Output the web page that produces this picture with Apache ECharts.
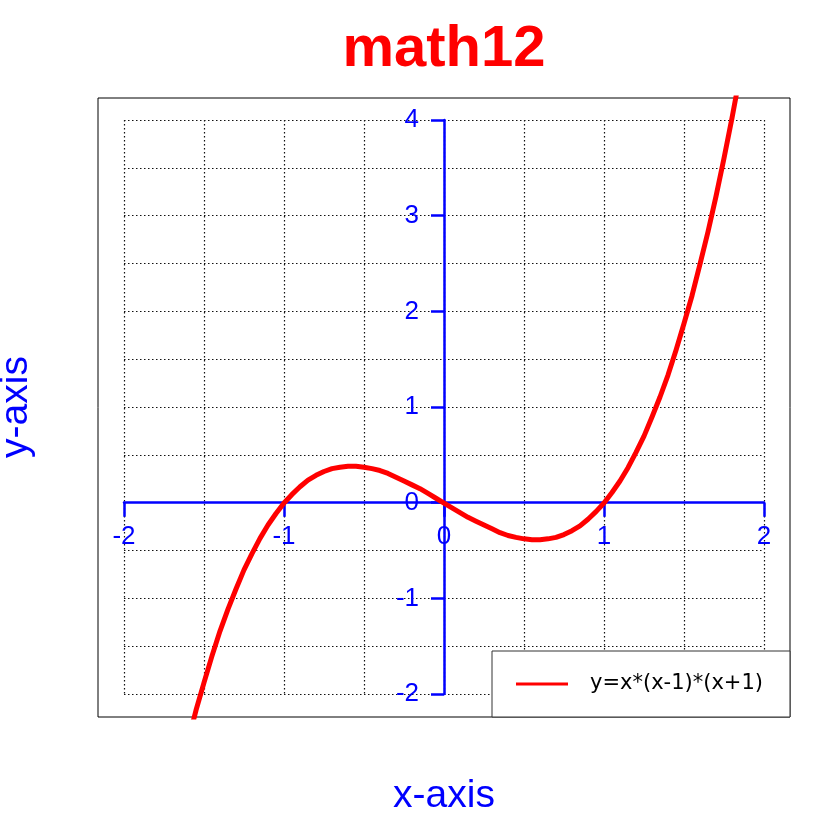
<!DOCTYPE html>
<html>
<head>
<meta charset="utf-8">
<script src="https://cdn.jsdelivr.net/npm/echarts@6/dist/echarts.min.js"></script>
<style>html,body{margin:0;padding:0;background:#fff}#c{width:840px;height:840px}</style>
</head>
<body>
<div id="c"></div>
<script>
// Data
const curveX = [-1.6,-1.55,-1.5,-1.45,-1.4,-1.35,-1.3,-1.25,-1.2,-1.15,-1.1,-1.05,-1.0,-0.95,-0.9,-0.85,-0.8,-0.75,-0.7,-0.65,-0.6,-0.55,-0.5,-0.45,-0.4,-0.35,-0.3,-0.25,-0.2,-0.15,-0.1,-0.05,
                0,0.05,0.1,0.15,0.2,0.25,0.3,0.35,0.4,0.45,0.5,0.55,0.6,0.65,0.7,0.75,0.8,0.85,0.9,0.95,1.0,1.05,1.1,1.15,1.2,1.25,1.3,1.35,1.4,1.45,1.5,1.55,1.6,1.65,1.7,1.75,1.8,1.85];
const curveY = [-2.5,-2.17,-1.88,-1.6,-1.34,-1.11,-0.9,-0.7,-0.53,-0.37,-0.23,-0.11,0,0.09,0.17,0.24,0.29,0.33,0.36,0.375,0.384,0.384,0.375,0.36,0.34,0.31,0.27,0.23,0.19,0.15,0.1,0.05,
                0,-0.05,-0.1,-0.15,-0.19,-0.23,-0.27,-0.31,-0.34,-0.36,-0.375,-0.384,-0.384,-0.375,-0.36,-0.33,-0.29,-0.24,-0.17,-0.09,0,0.11,0.23,0.37,0.53,0.7,0.9,1.11,1.34,1.6,1.88,2.17,2.5,2.84,3.21,3.61,4.03,4.48];
const seriesName = 'y=x*(x-1)*(x+1)';
const titleText = 'math12';
const xName = 'x-axis';
const yName = 'y-axis';
const xTicks = [-2,-1,0,1,2];
const yTicks = [-2,-1,0,1,2,3,4];

const blue = '#0000ff';
const red = '#ff0000';
const xMin = xTicks[0], xMax = xTicks[xTicks.length-1];
const yMin = yTicks[0], yMax = yTicks[yTicks.length-1];
const gridLine = {show:true, lineStyle:{color:'#111', type:[1.5,2.5], width:1.2}};
const hidden = {show:false, axisLine:{onZero:false}};

const chart = echarts.init(document.getElementById('c'), null, {renderer:'canvas'});
chart.setOption({
  animation:false,
  backgroundColor:'#fff',
  textStyle:{fontFamily:'Liberation Sans'},
  grid:[
    {left:124, top:120, width:640, height:574, show:false},
    {left:98, top:98, width:692, height:619, show:true, borderColor:'#000', borderWidth:1, backgroundColor:'transparent'},
    {left:124, top:120, width:640, height:383, show:false},
    {left:444, top:120, width:320, height:574, show:false}
  ],
  xAxis:[
    {gridIndex:0, type:'value', min:xMin, max:xMax, interval:0.5, position:'top',
     axisLine:{show:false, onZero:false}, axisTick:{show:false}, axisLabel:{show:false}, splitLine:gridLine},
    {gridIndex:0, type:'value', min:xMin, max:xMax, interval:1, position:'bottom',
     axisLine:{show:true, onZero:true, lineStyle:{color:blue, width:2.5}},
     axisTick:{show:true, length:14, lineStyle:{color:blue, width:2.5}},
     axisLabel:{show:false}, splitLine:{show:false}},
    {gridIndex:1, type:'value', min:-2.1625, max:2.1625, show:false, axisLine:{onZero:false}},
    {gridIndex:2, type:'value', min:xMin, max:xMax, interval:1, position:'bottom',
     axisLine:{show:false, onZero:false}, axisTick:{show:false}, splitLine:{show:false},
     axisLabel:{color:blue, fontSize:26, margin:21, fontFamily:'Liberation Sans'}},
    Object.assign({gridIndex:3, type:'value', min:0, max:1}, hidden)
  ],
  yAxis:[
    {gridIndex:0, type:'value', min:yMin, max:yMax, interval:0.5, position:'right',
     axisLine:{show:false, onZero:false}, axisTick:{show:false}, axisLabel:{show:false}, splitLine:gridLine},
    {gridIndex:0, type:'value', min:yMin, max:yMax, interval:1, position:'left',
     axisLine:{show:true, onZero:true, lineStyle:{color:blue, width:2.5}},
     axisTick:{show:true, length:13, lineStyle:{color:blue, width:2.5}},
     axisLabel:{show:false}, splitLine:{show:false}},
    {gridIndex:1, type:'value', min:-2.24, max:4.24, show:false, axisLine:{onZero:false}},
    Object.assign({gridIndex:2, type:'value', min:0, max:1}, hidden),
    {gridIndex:3, type:'value', min:yMin, max:yMax, interval:1, position:'left',
     axisLine:{show:false, onZero:false}, axisTick:{show:false}, splitLine:{show:false},
     axisLabel:{color:blue, fontSize:26, margin:25, fontFamily:'Liberation Sans'}}
  ],
  legend:{
    left:492, top:651, orient:'horizontal',
    padding:[20,27,20,24],
    itemWidth:52, itemHeight:3, icon:'rect',
    backgroundColor:'#fff', borderColor:'#333', borderWidth:1, borderRadius:0,
    textStyle:{fontSize:21, color:'#000', fontFamily:'DejaVu Sans', padding:[0,0,0,17], lineHeight:26},
    data:[seriesName]
  },
  series:[{
    name:seriesName, type:'line', xAxisIndex:2, yAxisIndex:2,
    data: curveX.map((x,i)=>[x, curveY[i]]),
    smooth:false, showSymbol:false, clip:true,
    lineStyle:{color:red, width:5, join:'round', cap:'round'}, itemStyle:{color:red}
  }],
  graphic:[
    {type:'text', x:444, y:50, style:{text:titleText, fill:red, font:'bold 58px "Liberation Sans"', align:'center', verticalAlign:'middle'}},
    {type:'text', x:444, y:796, style:{text:xName, fill:blue, font:'39px "Liberation Sans"', align:'center', verticalAlign:'middle'}},
    {type:'text', x:16, y:407, rotation:Math.PI/2, style:{text:yName, fill:blue, font:'39px "Liberation Sans"', align:'center', verticalAlign:'middle'}}
  ]
});
</script>
</body>
</html>
